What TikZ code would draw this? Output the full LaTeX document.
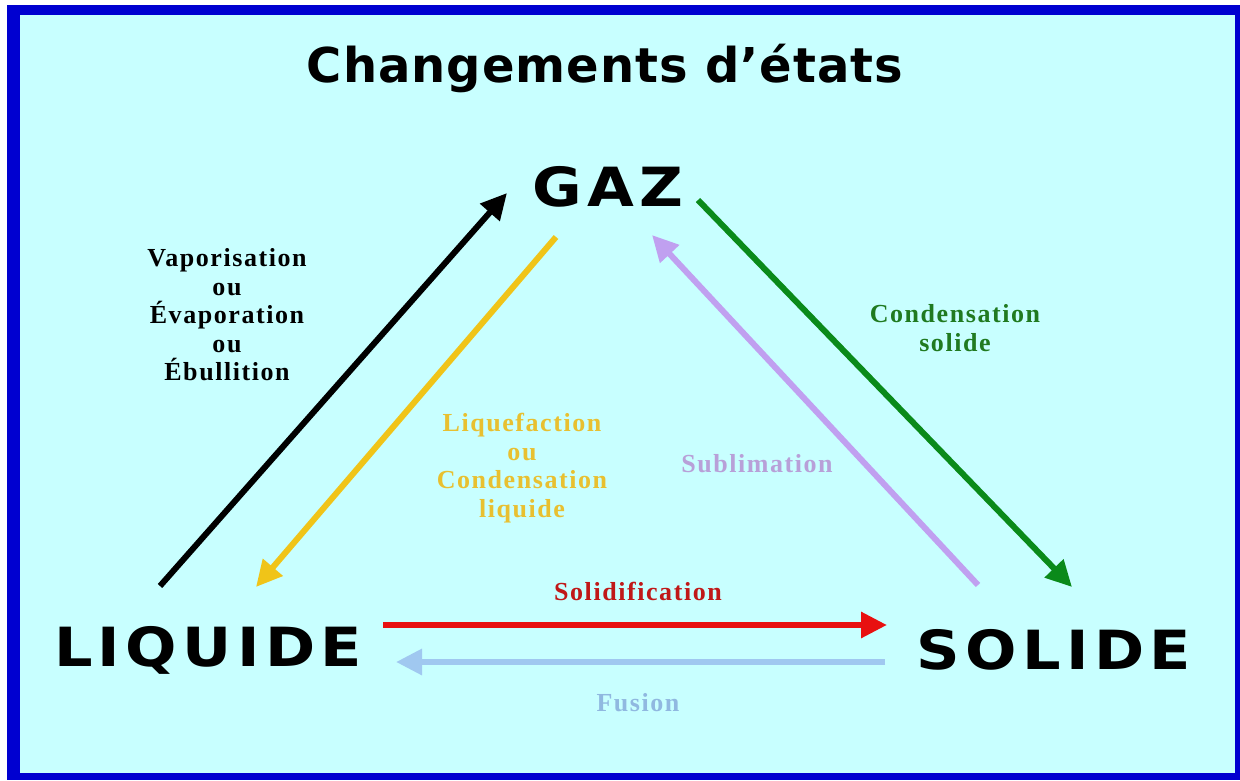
\documentclass[tikz,border=0pt]{standalone}
\usepackage{fontspec}
\usetikzlibrary{arrows.meta}
\newfontfamily\titlefont[LetterSpace=2]{DejaVu Sans Bold}
\newfontfamily\bigfont[LetterSpace=10,FakeStretch=1.12]{DejaVu Sans Bold}
\newfontfamily\labfont[LetterSpace=6]{Liberation Serif Bold}
\definecolor{bgcyan}{HTML}{C8FFFF}
\definecolor{frameblue}{HTML}{0000D0}
\definecolor{cyellow}{HTML}{F0C418}
\definecolor{tyellow}{HTML}{E8C030}
\definecolor{clav}{HTML}{C0A0F0}
\definecolor{tlav}{HTML}{B8A0D8}
\definecolor{cgreen}{HTML}{0A8A1A}
\definecolor{tgreen}{HTML}{207A20}
\definecolor{cred}{HTML}{E81010}
\definecolor{tred}{HTML}{C01818}
\definecolor{cblue}{HTML}{A0C8F0}
\definecolor{tblue}{HTML}{90B8E0}
\tikzset{
  conn/.style={line width=6pt, -{Triangle[length=26pt,width=25pt]}},
  state/.style={font=\bigfont\fontsize{54}{54}\selectfont, inner sep=0pt},
  lab/.style={font=\labfont\fontsize{26}{28.5}\selectfont, align=center, inner sep=0pt},
}
\begin{document}
\begin{tikzpicture}[x=1pt,y=-1pt]
\useasboundingbox (0,0) rectangle (1240,780);
\fill[white] (0,0) rectangle (1240,780);
\fill[frameblue] (7,5) rectangle (1240,780);
\fill[bgcyan] (20,15) rectangle (1235,773);
% title
\node[font=\titlefont\fontsize{48}{48}\selectfont, inner sep=0pt] (title) at (605,68) {Changements d’états};
% states
\node[state] (gaz) at (608,187) {GAZ};
\node[state] (liq) at (208,650) {LIQUIDE};
\node[state] (sol) at (1054,650) {SOLIDE};
% arrow end points
\coordinate (vapS) at (160,586);
\coordinate (vapE) at (507,193);
\coordinate (liqS) at (556,237);
\coordinate (liqE) at (256,587);
\coordinate (subS) at (978,585);
\coordinate (subE) at (652,235);
\coordinate (conS) at (698,200);
\coordinate (conE) at (1072,587);
\coordinate (solS) at (383,625);
\coordinate (solE) at (887,625);
\coordinate (fusS) at (885,662);
\coordinate (fusE) at (396,662);
\draw[conn, black] (vapS) -- (vapE);
\draw[conn, cyellow] (liqS) -- (liqE);
\draw[conn, clav] (subS) -- (subE);
\draw[conn, cgreen] (conS) -- (conE);
\draw[conn, cred] (solS) -- (solE);
\draw[conn, cblue] (fusS) -- (fusE);
% labels
\node[lab, text=black] (lvap) at (227,315) {Vaporisation\\ou\\Évaporation\\ou\\Ébullition};
\node[lab, text=tyellow] (lliq) at (522,468) {Liquefaction\\ou\\Condensation\\liquide};
\node[lab, text=tlav] (lsub) at (757,464) {Sublimation};
\node[lab, text=tgreen] (lcon) at (955,328) {Condensation\\solide};
\node[lab, text=tred] (lsol) at (638,591) {Solidification};
\node[lab, text=tblue] (lfus) at (638,703) {Fusion};
\end{tikzpicture}
\end{document}
